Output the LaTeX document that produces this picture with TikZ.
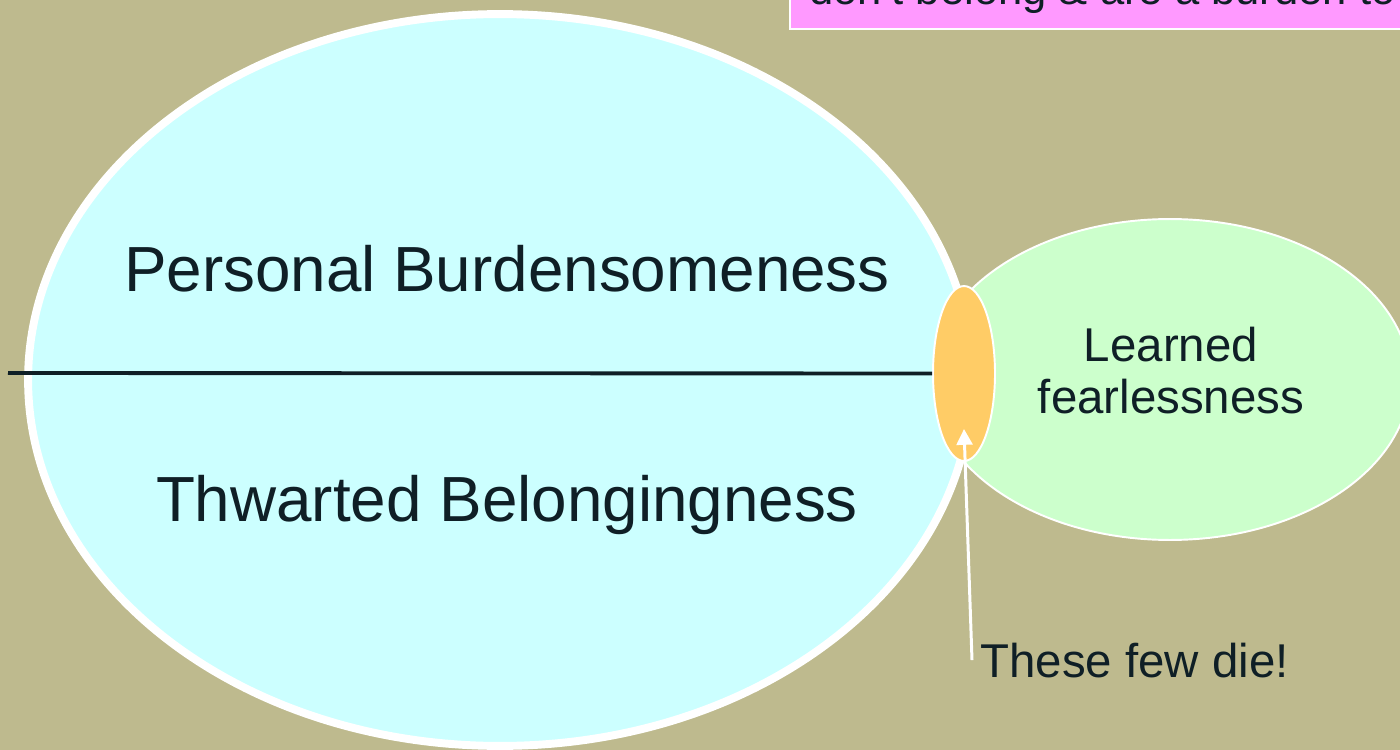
\documentclass[tikz,border=0pt]{standalone}
\usepackage{fontspec}
\setmainfont{Liberation Sans}
\usetikzlibrary{shapes.geometric,arrows.meta}

\definecolor{olivebg}{HTML}{BEBA8E}
\definecolor{skycyan}{HTML}{CCFFFF}
\definecolor{mintgreen}{HTML}{CCFFCC}
\definecolor{paleorange}{HTML}{FFCC66}
\definecolor{notepink}{HTML}{FF99FF}
\definecolor{inkdark}{HTML}{0F1F26}

\begin{document}
\begin{tikzpicture}[x=0.02cm, y=-0.02cm,
    blob/.style={ellipse, draw=white, inner sep=0pt},
    bigtext/.style={text=inkdark, font=\fontsize{36.3}{40}\selectfont, inner sep=0pt},
    midtext/.style={text=inkdark, font=\fontsize{27}{29.5}\selectfont, inner sep=0pt}]
    % Hintergrund
    \useasboundingbox (0,0) rectangle (1400,750);
    \fill[olivebg] (0,0) rectangle (1400,750);
    \clip (0,0) rectangle (1400,750);

    % Notiz oben rechts
    \node (note) [midtext, font=\fontsize{24.8}{28}\selectfont, fill=notepink, draw=white,
        line width=1.2pt, anchor=base west, inner xsep=11pt, inner ysep=8.3pt]
        at (789,5) {don't belong \& are a burden to others};

    % Ellipsen
    \node (fearless) [blob, fill=mintgreen, line width=1.1pt,
        minimum width=9.6cm, minimum height=6.42cm] at (1170,379.5) {};
    \node (desire) [blob, fill=skycyan, line width=4.5pt,
        minimum width=18.88cm, minimum height=14.64cm] at (500,380) {};
    \node (few) [blob, fill=paleorange, line width=1.1pt,
        minimum width=1.24cm, minimum height=3.5cm] at (964,373.5) {};

    % Trennlinie
    \coordinate (lineStart) at (8,373);
    \draw[inkdark, line width=2.2pt] (lineStart) -- (few.west);

    % Texte
    \node (burden) [bigtext, anchor=base] at (507,291) {Personal Burdensomeness};
    \node (belong) [bigtext, anchor=base] at (507,521) {Thwarted Belongingness};
    \node (learned) [midtext, align=center, anchor=north] at (1171,327) {Learned\\fearlessness};
    \node (die) [midtext, inner xsep=4.5pt, anchor=base west] at (972,677) {These few die!};

    % Pfeil
    \coordinate (dieTip) at (964,429);
    \draw[white, line width=1.7pt, -{Triangle[length=9pt,width=9pt]}] (die.west) -- (dieTip);
\end{tikzpicture}
\end{document}
